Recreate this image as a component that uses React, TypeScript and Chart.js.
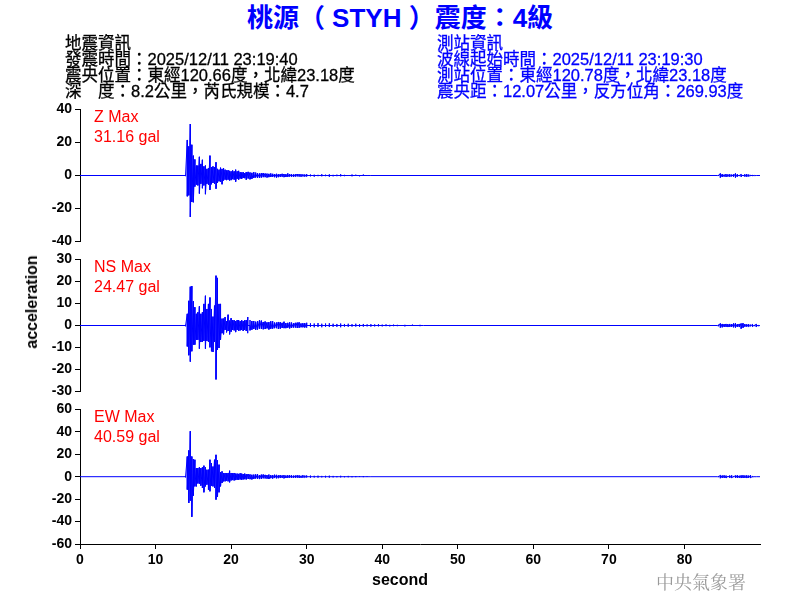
import React, { useEffect, useRef } from "react";
import { Chart, registerables } from "chart.js";

Chart.register(...registerables);

// ---------- data (seconds, gal) ----------
const commonTime = [
  0, 13.9,
  14.0, 14.2, 14.4, 14.6, 14.8, 15.0, 15.2, 15.4, 15.6, 15.8,
  16.0, 16.2, 16.4, 16.6, 16.8, 17.0, 17.2, 17.4, 17.6, 17.8,
  18.0, 18.2, 18.4, 18.6, 18.8, 19.0, 19.2, 19.4, 19.6, 19.8,
  20.0, 20.2, 20.4, 20.6, 20.8, 21.0, 21.2, 21.4, 21.6, 21.8, 22.0,
  22.25, 22.5, 22.75, 23.0, 23.25, 23.5, 23.75, 24.0,
  24.25, 24.5, 24.75, 25.0, 25.25, 25.5, 25.75, 26.0,
  26.25, 26.5, 26.75, 27.0, 27.25, 27.5, 27.75, 28.0,
  28.25, 28.5, 28.75, 29.0, 29.25, 29.5, 29.75, 30.0,
  30.5, 31.0, 31.5, 32.0, 32.5, 33.0, 33.5, 34.0, 34.5,
  35.0, 35.5, 36.0, 36.5, 37.0, 37.5, 38.0, 38.5,
  84.4,
  84.5, 84.75, 85.0, 85.25, 85.5, 85.75, 86.0, 86.25, 86.5, 86.75,
  87.0, 87.25, 87.5, 87.75, 88.0, 88.25, 88.5, 88.75, 89.0, 89.25, 89.5,
  90,
];

const zHigh = [
  0, 0,
  0.3, 21.5, 17.6, 31.16, 18.6, 12, 9.7, 6, 6, 11.3,
  7, 9.5, 5.5, 6, 4, 4.5, 12, 5, 5.5, 5,
  8, 4, 3.5, 4.7, 4, 4.5, 3.5, 3, 3.2, 2.8,
  2.5, 3, 2.5, 3.5, 2.5, 2.8, 2, 1.8, 2, 1.5, 2,
  2.2, 1.8, 1.6, 2, 1.7, 1.5, 1.2, 1.4,
  1.5, 1.2, 1.1, 1, 1.2, 1, 0.9, 1,
  0.8, 0.8, 1.0, 0.9, 0.7, 1.2, 0.9, 0.8,
  0.6, 0.7, 0.9, 0.8, 0.7, 0.6, 0.5, 0.8,
  0.6, 0.5, 0.4, 0.8, 0.5, 0.7, 0.4, 0.5, 0.8,
  0.4, 0.3, 0.6, 0.5, 0.3, 0.6, 0.3, 0,
  0,
  0.3, 1.2, 0.8, 0.5, 0.8, 0.6, 0.7, 0.5, 0.6, 1.2,
  0.7, 0.3, 0.7, 0.3, 0.6, 0.8, 0.5, 0.2, 0.2, 0.1, 0,
  0,
];
const zLow = [
  0, 0,
  -0.3, -12.6, -12, -25.1, -16, -16.2, -6.7, -5.5, -6, -10.9,
  -5, -7.7, -6, -11.3, -5, -5.5, -8.7, -5.3, -4.5, -5,
  -8, -4.5, -3.5, -3.8, -5.3, -3, -2.5, -2.8, -2.5, -3,
  -2.8, -2.2, -2.5, -3.8, -2, -2.5, -1.8, -2, -1.5, -1.6, -2.5,
  -1.8, -2.3, -2.0, -1.5, -1.2, -1.3, -1.5, -1.2,
  -1.0, -1, -1.2, -1, -0.9, -0.8, -1.0, -1.2,
  -1.0, -0.8, -0.7, -1, -0.9, -0.8, -0.6, -0.7,
  -0.8, -0.6, -0.5, -0.6, -0.7, -0.5, -0.6, -0.7,
  -0.5, -0.7, -0.4, -0.5, -0.4, -0.8, -0.5, -0.4, -0.5,
  -0.4, -0.3, -0.5, -0.3, -0.5, -0.3, -0.3, 0,
  0,
  -0.3, -1.2, -0.9, -0.6, -0.8, -0.6, -0.7, -0.5, -0.7, -1.2,
  -0.6, -0.3, -0.7, -0.3, -0.6, -0.7, -0.5, -0.2, -0.2, -0.1, 0,
  0,
];

const nsTime = [
  0, 13.9,
  14.0, 14.2, 14.4, 14.6, 14.8, 15.0, 15.2, 15.4, 15.6, 15.8,
  16.0, 16.2, 16.4, 16.6, 16.8, 17.0, 17.2, 17.4, 17.6, 17.8,
  18.0, 18.2, 18.4, 18.6, 18.8, 19.0, 19.2, 19.4, 19.6, 19.8,
  20.0, 20.2, 20.4, 20.6, 20.8, 21.0, 21.2, 21.4, 21.6, 21.8, 22.0, 22.2,
  22.5, 22.75, 23.0, 23.25, 23.5, 23.75, 24.0, 24.25,
  24.5, 24.75, 25.0, 25.25, 25.5, 25.75, 26.0, 26.25,
  26.5, 26.75, 27.0, 27.25, 27.5, 27.75, 28.0, 28.25,
  28.5, 28.75, 29.0, 29.25, 29.5, 29.75, 30.0,
  30.5, 31.0, 31.5, 32.0, 32.5, 33.0, 33.5, 34.0,
  34.5, 35.0, 35.5, 36.0, 36.5, 37.0, 37.5, 38.0,
  38.5, 39.0, 39.5, 40.0, 40.5, 41.0, 41.5, 42.0,
  43.0, 44.0, 45.0, 45.5,
  84.4,
  84.5, 84.75, 85.0, 85.25, 85.5, 85.75, 86.0, 86.25, 86.5, 86.75, 87.0,
  87.25, 87.5, 87.75, 88.0, 88.25, 88.5, 88.75, 89.0, 89.25, 89.5, 89.75,
  90,
];
const nsHigh = [
  0, 0,
  0.3, 5.3, 11.2, 17.6, 17.9, 11, 8.3, 5.3, 6, 8.7,
  5.3, 6, 9.8, 13.5, 7.5, 9.8, 12.7, 7.5, 4, 9,
  22.6, 21.6, 9.8, 9.8, 3.1, 3.1, 3.8, 2, 4.9, 2.2,
  3.3, 2.4, 2.4, 2, 2.4, 2.4, 2, 2.4, 2, 2.4, 2.4, 3.8,
  2.5, 2.0, 2, 1.7, 1.9, 2.3, 2.2, 1.6,
  1.8, 1.4, 1.5, 1.9, 1.9, 1.3, 1.3, 1.6,
  1.5, 1.2, 1.7, 1.1, 1.2, 1.4, 1.3, 1.0,
  1.2, 1.3, 1.4, 0.9, 1.0, 1.1, 1.2,
  1.0, 0.9, 1.1, 0.8, 0.9, 1.0, 0.8, 0.7,
  0.9, 0.7, 0.8, 0.6, 0.8, 0.6, 0.7, 0.5,
  0.6, 0.5, 0.6, 0.4, 0.5, 0.3, 0.4, 0.3,
  0.3, 0.4, 0.3, 0,
  0,
  0.3, 0.9, 0.7, 0.6, 0.7, 0.6, 0.7, 0.6, 0.9, 1.0, 0.6,
  0.7, 0.9, 1.0, 0.6, 0.5, 0.6, 0.3, 0.5, 0.2, 0.6, 0.2,
  0,
];
const nsLow = [
  0, 0,
  -0.3, -9.5, -13.5, -16.4, -11.7, -8.7, -8.7, -6.5, -6.5, -10.5,
  -7.5, -7.5, -7, -10.5, -7, -7.5, -9.9, -11.7, -12, -7.5,
  -24.47, -11, -10.2, -6.5, -3.5, -4, -2, -3.1, -2.5, -4,
  -2.8, -2, -2.2, -3, -2, -2.5, -2.2, -2, -2.5, -2, -2.5, -3.5,
  -2.2, -1.9, -1.6, -2.0, -1.8, -1.4, -1.5, -1.7,
  -1.6, -1.3, -1.8, -1.5, -1.4, -1.2, -1.2, -1.5,
  -1.4, -1.1, -1.2, -1.2, -1, -1.3, -1.1, -0.9,
  -0.9, -1.1, -1, -0.8, -0.8, -0.9, -1,
  -0.7, -0.8, -0.7, -0.8, -0.6, -0.7, -0.6, -0.6,
  -0.8, -0.5, -0.6, -0.5, -0.5, -0.6, -0.5, -0.4,
  -0.5, -0.4, -0.4, -0.4, -0.3, -0.4, -0.3, -0.3,
  -0.4, -0.2, -0.3, 0,
  0,
  -0.3, -0.9, -0.8, -0.6, -0.6, -0.7, -0.6, -0.6, -0.8, -0.9, -0.6,
  -0.7, -1.4, -1.0, -0.5, -0.5, -0.5, -0.3, -0.5, -0.2, -0.6, -0.2,
  0,
];

const ewHigh = [
  0, 0,
  0.5, 18, 23.4, 40.59, 18, 15.7, 15.1, 7.7, 7.7, 8.3,
  7.7, 8.3, 9.8, 8.3, 6.2, 6.2, 15.1, 12.1, 9, 15.1,
  19.5, 14.5, 10.7, 3.9, 4.7, 3.3, 3.3, 3, 3.3, 5.3,
  3.3, 3, 3.3, 2.7, 2.7, 2.5, 3, 2.7, 2.4, 2.7, 2.2,
  2.4, 2, 1.7, 1.8, 2.0, 2.2, 1.5, 1.8,
  1.9, 1.6, 1.4, 1.8, 1.3, 1.5, 1.7, 1.6,
  1.2, 1.4, 1.1, 1.3, 1.0, 1.2, 1.3, 1.2,
  0.9, 1, 1.2, 1.1, 0.8, 1.2, 0.9, 0.9,
  1, 0.8, 0.9, 0.7, 0.8, 0.9, 0.7, 0.6, 0.8,
  0.5, 0.7, 0.4, 0.6, 0.5, 0.6, 0.3, 0,
  0,
  0.3, 1.2, 1.0, 1.1, 0.9, 0.3, 0.9, 1.1, 0.3, 1.0,
  1.2, 0.8, 1.1, 1.2, 1.0, 1.1, 0.9, 1.2, 0.3, 0.1, 0,
  0,
];
const ewLow = [
  0, 0,
  -0.5, -11.5, -23.4, -21.3, -35.8, -16.9, -8.6, -8.6, -6, -6.2,
  -8, -10, -13.9, -8.6, -7.1, -11.5, -13, -8, -8.6, -10,
  -20.4, -18, -13.9, -8.6, -5.6, -4.1, -4.1, -3.5, -4.1, -5,
  -3.3, -3, -3.3, -3, -2.7, -2.7, -2.4, -2.7, -2.4, -2.2, -2.4,
  -2.0, -2.2, -2.4, -2, -1.6, -1.8, -2.1, -2,
  -1.4, -1.5, -1.7, -2, -1.3, -1.6, -1.2, -1.4,
  -1.3, -1.2, -1.0, -1.4, -1.1, -1, -0.9, -1.1,
  -1.0, -0.9, -0.8, -1, -0.9, -0.8, -0.7, -0.8,
  -0.9, -0.7, -0.8, -0.6, -0.7, -0.8, -0.6, -0.5, -0.6,
  -0.5, -0.5, -0.5, -0.4, -0.3, -0.4, -0.3, 0,
  0,
  -0.3, -1.3, -1.0, -1.0, -1.2, -0.3, -0.9, -1.0, -0.3, -1.1,
  -1.0, -0.9, -1.2, -1.1, -1.0, -1.2, -0.9, -1.0, -0.3, -0.1, 0,
  0,
];

const zTicks = { min: -40, max: 40, step: 20 };
const nsTicks = { min: -30, max: 30, step: 10 };
const ewTicks = { min: -60, max: 60, step: 20 };
const xRange = { min: 0, max: 90, step: 10, lastLabel: 80 };

const maxLabels = ["Z Max", "NS Max", "EW Max"];
const maxValues = ["31.16 gal", "24.47 gal", "40.59 gal"];

const titleText = "桃源（ STYH ）震度：4級";
const quakeInfo = [
  "地震資訊",
  "發震時間：2025/12/11 23:19:40",
  "震央位置：東經120.66度，北緯23.18度",
  "深　度：8.2公里，芮氏規模：4.7",
];
const stationInfo = [
  "測站資訊",
  "波線起始時間：2025/12/11 23:19:30",
  "測站位置：東經120.78度，北緯23.18度",
  "震央距：12.07公里，反方位角：269.93度",
];
const yTitle = "acceleration";
const xTitle = "second";
const agency = "中央氣象署";

// ---------- helpers ----------
// Each time bin is drawn as a vertical stroke from its low to its high value.
// Closely spaced bins are joined directly; widely spaced bins return to the baseline.
function buildTrace(time: number[], high: number[], low: number[]) {
  const pts: { x: number; y: number }[] = [];
  const n = Math.min(time.length, high.length, low.length);
  for (let i = 0; i < n; i++) {
    const gapBefore = i > 0 ? time[i] - time[i - 1] : 0;
    if (gapBefore > 0.3) pts.push({ x: time[i], y: 0 });
    pts.push({ x: time[i], y: high[i] });
    if (low[i] !== high[i]) pts.push({ x: time[i], y: low[i] });
    const gapAfter = i < n - 1 ? time[i + 1] - time[i] : 0;
    if (gapAfter > 0.3) pts.push({ x: time[i], y: 0 });
  }
  return pts;
}

const FONT = '"Liberation Sans", Arial, "Noto Sans CJK TC", sans-serif';
const tickFont = { family: FONT, size: 14, weight: "bold" as const };

type PanelProps = {
  top: number;
  height: number;
  padBottom: number;
  ticks: { min: number; max: number; step: number };
  time: number[];
  high: number[];
  low: number[];
  showX: boolean;
};

function Panel({ top, height, padBottom, ticks, time, high, low, showX }: PanelProps) {
  const ref = useRef<HTMLCanvasElement>(null);
  useEffect(() => {
    if (!ref.current) return;
    const xScale: any = {
      type: "linear",
      min: xRange.min,
      max: xRange.max,
      display: showX,
      ticks: {
        stepSize: xRange.step,
        color: "#000",
        font: tickFont,
        padding: 3,
        maxRotation: 0,
        autoSkip: false,
      },
      grid: {
        display: true,
        drawOnChartArea: false,
        drawTicks: true,
        tickLength: 5,
        color: "#000",
      },
      border: { display: true, color: "#000", width: 1 },
      afterBuildTicks: (s: any) => {
        s.ticks = s.ticks.filter((t: any) => t.value <= xRange.lastLabel);
      },
    };
    if (showX) {
      xScale.afterFit = (s: any) => {
        s.height = 30;
      };
    }
    const chart = new Chart(ref.current, {
      type: "line",
      data: {
        datasets: [
          {
            data: buildTrace(time, high, low),
            borderColor: "#0000ff",
            borderWidth: 1,
            pointRadius: 0,
            tension: 0,
            fill: false,
          },
        ],
      },
      options: {
        animation: false,
        responsive: false,
        maintainAspectRatio: false,
        layout: { padding: { top: 10, bottom: padBottom, left: 0, right: 40 } },
        plugins: { legend: { display: false }, tooltip: { enabled: false } },
        scales: {
          x: xScale,
          y: {
            type: "linear",
            min: ticks.min,
            max: ticks.max,
            ticks: {
              stepSize: ticks.step,
              color: "#000",
              font: tickFont,
              padding: 3,
              autoSkip: false,
            },
            grid: {
              display: true,
              drawOnChartArea: false,
              drawTicks: true,
              tickLength: 5,
              color: "#000",
            },
            border: { display: true, color: "#000", width: 1 },
            afterFit: (s: any) => {
              s.width = 80;
            },
          },
        },
      },
    } as any);
    return () => chart.destroy();
  }, []);
  return (
    <canvas
      ref={ref}
      width={800}
      height={height}
      style={{ position: "absolute", left: 0, top, width: 800, height }}
    />
  );
}

export default function App() {
  const maxTops = [107, 257, 407];
  return (
    <div
      style={{
        position: "absolute",
        left: 0,
        top: 0,
        width: 800,
        height: 600,
        background: "#fff",
        overflow: "hidden",
        fontFamily: FONT,
      }}
    >
      <Panel top={98} height={155} padBottom={10} ticks={zTicks} time={commonTime} high={zHigh} low={zLow} showX={false} />
      <Panel top={248} height={155} padBottom={10} ticks={nsTicks} time={nsTime} high={nsHigh} low={nsLow} showX={false} />
      <Panel top={398} height={176} padBottom={0} ticks={ewTicks} time={commonTime} high={ewHigh} low={ewLow} showX={true} />

      {/* title */}
      <div
        style={{
          position: "absolute",
          left: 0,
          width: 800,
          top: 2,
          textAlign: "center",
          color: "#0000ff",
          fontSize: 26,
          fontWeight: "bold",
          lineHeight: "32px",
          whiteSpace: "pre",
        }}
      >
        {titleText}
      </div>

      {/* info blocks */}
      <div
        style={{
          position: "absolute",
          left: 65,
          top: 35,
          color: "#000",
          fontSize: 16.5,
          lineHeight: "16px",
          WebkitTextStroke: "0.3px #000",
        }}
      >
        {quakeInfo.map((t, i) => (
          <div key={i} style={{ whiteSpace: "pre", height: 16 }}>{t}</div>
        ))}
      </div>
      <div
        style={{
          position: "absolute",
          left: 437,
          top: 35,
          color: "#0000ff",
          fontSize: 16.5,
          lineHeight: "16px",
          WebkitTextStroke: "0.3px #0000ff",
        }}
      >
        {stationInfo.map((t, i) => (
          <div key={i} style={{ whiteSpace: "pre", height: 16 }}>{t}</div>
        ))}
      </div>

      {/* max labels */}
      {maxLabels.map((lab, i) => (
        <div
          key={lab}
          style={{
            position: "absolute",
            left: 94,
            top: maxTops[i],
            color: "#ff0000",
            fontSize: 16,
            lineHeight: "20px",
            whiteSpace: "pre",
          }}
        >
          <div>{lab}</div>
          <div>{maxValues[i]}</div>
        </div>
      ))}

      {/* axis titles */}
      <div
        style={{
          position: "absolute",
          left: 32,
          top: 302,
          transform: "translate(-50%, -50%) rotate(-90deg)",
          fontSize: 16,
          fontWeight: "bold",
          color: "#000",
          whiteSpace: "pre",
          lineHeight: "18px",
        }}
      >
        {yTitle}
      </div>
      <div
        style={{
          position: "absolute",
          left: 0,
          width: 800,
          top: 571,
          textAlign: "center",
          fontSize: 16,
          fontWeight: "bold",
          color: "#000",
          lineHeight: "18px",
        }}
      >
        {xTitle}
      </div>

      {/* agency */}
      <div
        style={{
          position: "absolute",
          left: 656,
          top: 570,
          fontSize: 18,
          color: "#9a9a9a",
          lineHeight: "22px",
          fontFamily: '"Noto Serif CJK TC", "Noto Sans CJK TC", serif',
          whiteSpace: "pre",
        }}
      >
        {agency}
      </div>
    </div>
  );
}
